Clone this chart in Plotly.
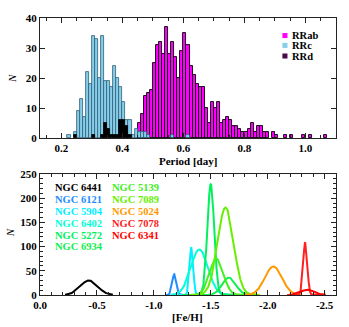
import numpy as np
import plotly.graph_objects as go

# ---------------- data: period histograms (bin left edges, counts) ----------------
rrab_bins = [0.45, 0.46, 0.47, 0.48, 0.49, 0.50, 0.51, 0.52, 0.53, 0.54, 0.55, 0.56, 0.57, 0.58,
             0.59, 0.60, 0.61, 0.62, 0.63, 0.64, 0.65, 0.66, 0.67, 0.68, 0.69, 0.70, 0.71, 0.72,
             0.73, 0.74, 0.75, 0.76, 0.77, 0.78, 0.79, 0.80, 0.81, 0.82, 0.83, 0.84, 0.85, 0.86,
             0.87, 0.89, 0.90, 0.93, 0.95, 0.99, 1.01, 1.06]
rrab_counts = [5, 8, 14, 15, 16, 25, 31, 32, 28, 37, 28, 32, 27, 20,
               29, 35, 31, 24, 21, 18, 17, 17, 10, 5, 12, 10, 12, 5,
               6, 7, 6, 4, 4, 3, 2, 2, 3, 5, 2, 4, 4, 2,
               2, 2, 1, 1, 1, 1, 1, 1]

rrc_bins = [0.22, 0.24, 0.25, 0.26, 0.27, 0.28, 0.29, 0.30, 0.31, 0.32, 0.33, 0.34, 0.35, 0.36,
            0.37, 0.38, 0.39, 0.40, 0.41, 0.42, 0.43, 0.44, 0.45, 0.46, 0.47, 0.48, 0.56, 0.61]
rrc_counts = [1, 2, 9, 13, 7, 22, 18, 34, 33, 20, 34, 19, 19, 17,
              24, 20, 17, 12, 6, 6, 1, 3, 2, 2, 2, 1, 1, 1]

rrd_bins = [0.24, 0.30, 0.33, 0.34, 0.35, 0.36, 0.37, 0.38, 0.39, 0.40, 0.41, 0.42]
rrd_counts = [1, 1, 1, 5, 3, 1, 1, 1, 6, 6, 4, 1]

BIN = 0.01
period_ticks = [0.2, 0.4, 0.6, 0.8, 1.0]
period_labels = ["0.2", "0.4", "0.6", "0.8", "1.0"]
n_ticks_top = [0, 10, 20, 30, 40]

# ---------------- data: [Fe/H] gaussians per cluster ----------------
gc_names = ["NGC 6441", "NGC 6121", "NGC 5904", "NGC 6402", "NGC 5272", "NGC 6934",
            "NGC 5139", "NGC 7089", "NGC 5024", "NGC 7078", "NGC 6341"]
gc_colors = ["#000000", "#1e8cff", "#00f0ff", "#00ffd8", "#00f060", "#10f050",
             "#40f020", "#66f000", "#ff9900", "#ff2020", "#ff0000"]
gc_mean = [-0.43, -1.18, -1.33, -1.40, -1.50, -1.66, -1.55, -1.63, -2.05, -2.33, -2.35]
gc_sigma = [0.075, 0.018, 0.016, 0.075, 0.030, 0.060, 0.060, 0.070, 0.075, 0.018, 0.060]
gc_peak = [30, 43, 99, 94, 229, 36, 75, 181, 59, 109, 11]
gc_halfspan = [0.21, 0.08, 0.12, 0.25, 0.25, 0.25, 0.25, 0.30, 0.25, 0.16, 0.16]

feh_ticks = [0.0, -0.5, -1.0, -1.5, -2.0, -2.5]
feh_labels = ["0.0", "-0.5", "-1.0", "-1.5", "-2.0", "-2.5"]
n_ticks_bottom = [0, 50, 100, 150, 200, 250]

# ---------------- figure ----------------
SERIF = "Liberation Serif"
fig = go.Figure()

def centers(bins):
    return [b + BIN / 2 for b in bins]

fig.add_trace(go.Bar(x=centers(rrab_bins), y=rrab_counts, width=BIN, name="RRab",
                     marker=dict(color="#ff00ff", line=dict(color="#000000", width=0.9)),
                     xaxis="x", yaxis="y"))
fig.add_trace(go.Bar(x=centers(rrc_bins), y=rrc_counts, width=BIN, name="RRc",
                     marker=dict(color="#87ceeb", line=dict(color="#2f5d73", width=0.8)),
                     xaxis="x", yaxis="y"))
fig.add_trace(go.Bar(x=centers(rrd_bins), y=rrd_counts, width=BIN, name="RRd",
                     marker=dict(color="#000000", line=dict(color="#000000", width=0.8)),
                     xaxis="x", yaxis="y"))

for name, col, mu, sg, pk, hs in zip(gc_names, gc_colors, gc_mean, gc_sigma, gc_peak, gc_halfspan):
    xs = np.linspace(mu - hs, mu + hs, 300)
    ys = pk * np.exp(-0.5 * ((xs - mu) / sg) ** 2)
    fig.add_trace(go.Scatter(x=xs, y=ys, mode="lines", name=name,
                             line=dict(color=col, width=2), xaxis="x2", yaxis="y2"))

axis_common = dict(showline=True, linecolor="#222222", linewidth=1, mirror="allticks",
                   ticks="inside", ticklen=5, tickcolor="#222222", showgrid=False, zeroline=False,
                   tickfont=dict(family=SERIF, size=11, color="black", weight="bold"))

fig.update_layout(
    width=349, height=327,
    margin=dict(l=40, r=12, t=14, b=32),
    paper_bgcolor="white", plot_bgcolor="white",
    showlegend=False, barmode="overlay", bargap=0,
    xaxis=dict(domain=[0, 1], anchor="y", range=[0.13, 1.10],
               tickvals=period_ticks, ticktext=period_labels,
               minor=dict(dtick=0.05, tick0=0, ticks="inside", ticklen=3, tickcolor="#222222"),
               **axis_common),
    yaxis=dict(domain=[0.5658, 1], anchor="x", range=[0, 40],
               tickvals=n_ticks_top, ticktext=[str(v) for v in n_ticks_top],
               **axis_common),
    xaxis2=dict(domain=[0, 1], anchor="y2", range=[0, -2.6],
                tickvals=feh_ticks, ticktext=feh_labels,
                minor=dict(dtick=0.1, tick0=0, ticks="inside", ticklen=3, tickcolor="#222222"),
                **axis_common),
    yaxis2=dict(domain=[0, 0.4367], anchor="x2", range=[0, 250],
                tickvals=n_ticks_bottom, ticktext=[str(v) for v in n_ticks_bottom],
                minor=dict(dtick=10, tick0=0, ticks="inside", ticklen=3, tickcolor="#222222"),
                **axis_common),
)

ann = []
title_font = dict(family=SERIF, size=11, color="black", weight="bold")
ann.append(dict(text="Period [day]", xref="paper", yref="paper", x=0.50, y=0.484,
                xanchor="center", yanchor="middle", showarrow=False, font=title_font))
ann.append(dict(text="[Fe/H]", xref="paper", yref="paper", x=0.498, y=-0.078,
                xanchor="center", yanchor="middle", showarrow=False, font=title_font))
ann.append(dict(text="<i>N</i>", xref="paper", yref="paper", x=-0.095, y=0.783, textangle=-90,
                xanchor="center", yanchor="middle", showarrow=False,
                font=dict(family=SERIF, size=11, color="black")))
ann.append(dict(text="<i>N</i>", xref="paper", yref="paper", x=-0.100, y=0.224, textangle=-90,
                xanchor="center", yanchor="middle", showarrow=False,
                font=dict(family=SERIF, size=11, color="black")))

# legend for the period histogram (drawn manually for compact rows)
leg_names = ["RRab", "RRc", "RRd"]
leg_colors = ["#ff00ff", "#87ceeb", "#4a0a4a"]
leg_y = [0.854, 0.772, 0.684]
leg_font = dict(family=SERIF, size=10.5, color="black", weight="bold")
shapes = []
for nm, cl, yy in zip(leg_names, leg_colors, leg_y):
    shapes.append(dict(type="rect", xref="x domain", yref="y domain",
                       x0=0.819, x1=0.836, y0=yy - 0.021, y1=yy + 0.021,
                       fillcolor=cl, line=dict(width=0)))
    ann.append(dict(text=nm, xref="x domain", yref="y domain", x=0.846, y=yy,
                    xanchor="left", yanchor="middle", showarrow=False, font=leg_font))

# cluster labels in two columns
col_x = [0.045] * 6 + [0.236] * 5
row_y = [0.888, 0.793, 0.692, 0.592, 0.496, 0.398, 0.888, 0.793, 0.692, 0.592, 0.496]
for nm, cl, xx, yy in zip(gc_names, gc_colors, col_x, row_y):
    ann.append(dict(text=nm, xref="x2 domain", yref="y2 domain", x=xx, y=yy,
                    xanchor="left", yanchor="middle", showarrow=False,
                    font=dict(family=SERIF, size=10.5, color=cl, weight="bold")))

fig.update_layout(annotations=ann, shapes=shapes)
fig.write_html("out.html", config={"displayModeBar": False},
               post_script="document.body.style.margin='0';document.body.style.overflow='hidden';")
